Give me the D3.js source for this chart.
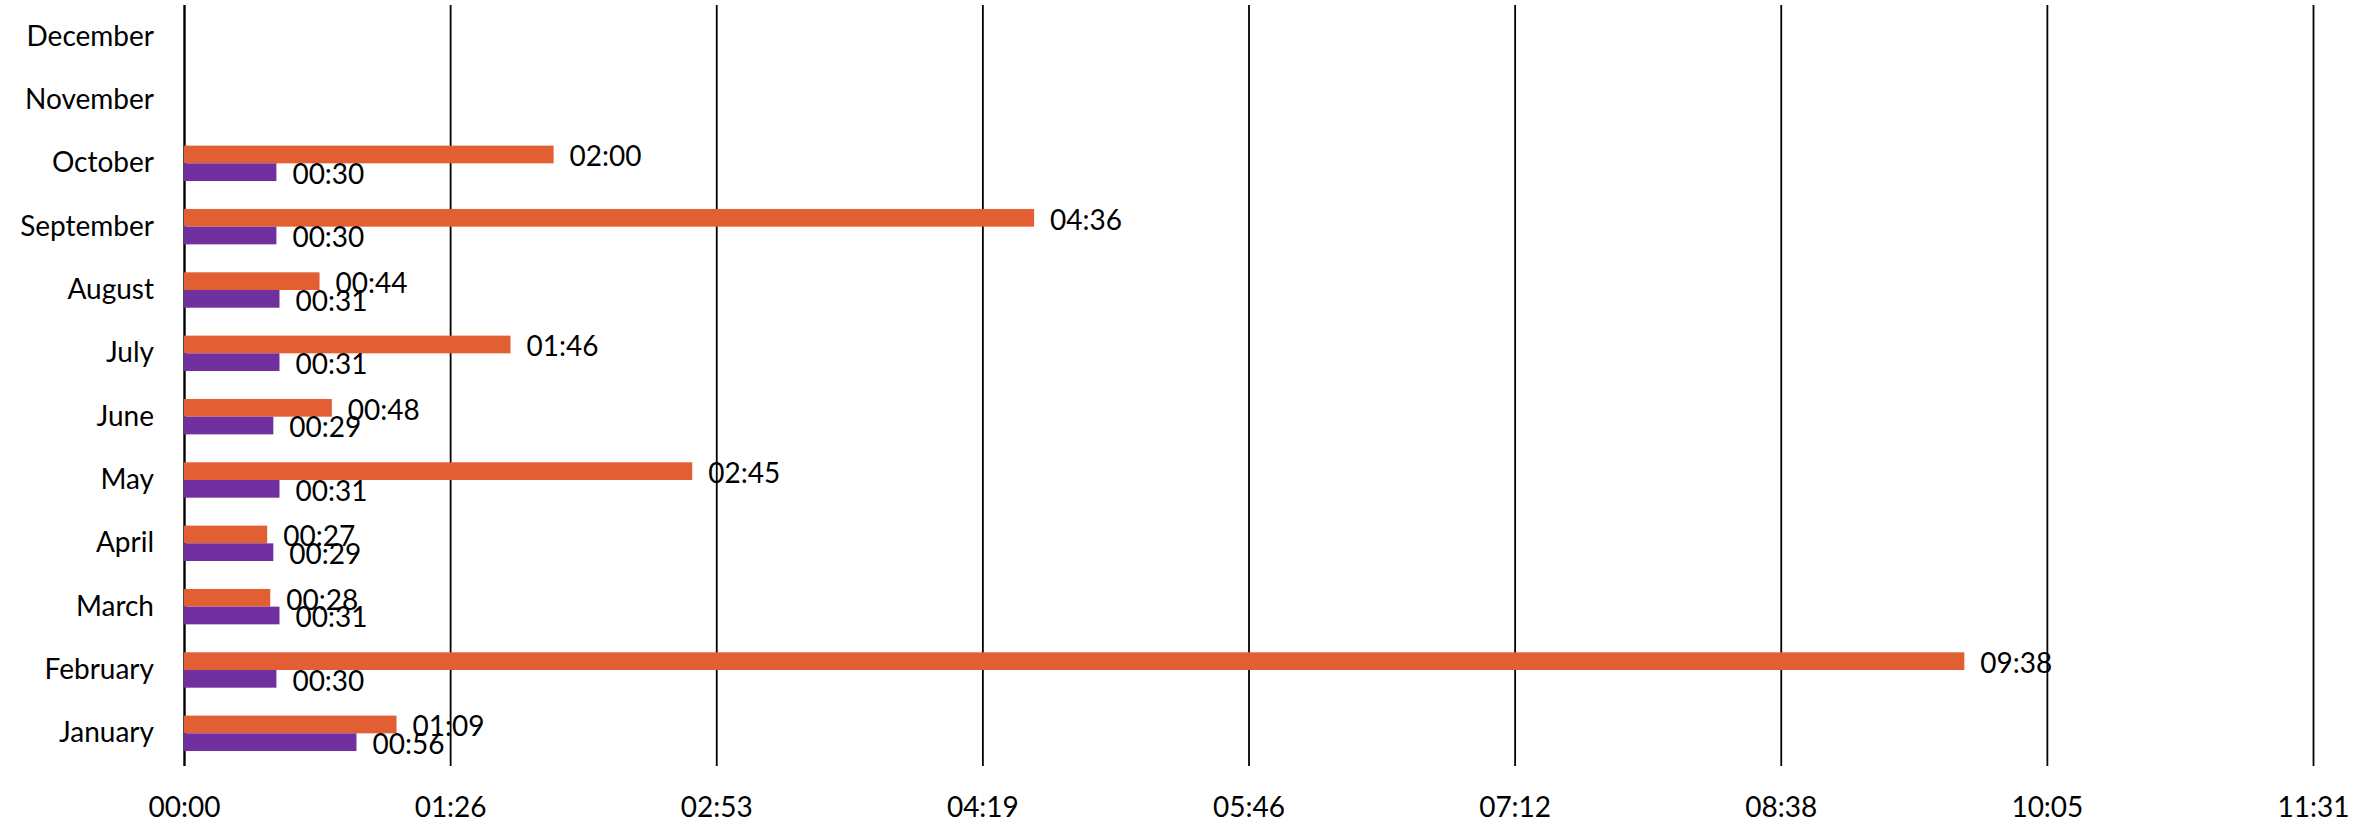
<!DOCTYPE html>
<html>
<head>
<meta charset="utf-8">
<script src="https://cdn.jsdelivr.net/npm/d3@7"></script>
<style>
  html, body { margin: 0; padding: 0; background: #ffffff; }
  svg { display: block; }
  text { font-family: Lato, "Open Sans", sans-serif; fill: #000; }
</style>
</head>
<body>
<svg id="chart" width="2379" height="822"></svg>
<script>
// Months, bottom to top
const months = ["January", "February", "March", "April", "May", "June",
                "July", "August", "September", "October", "November", "December"];

// Durations per month (hh:mm), null where there is no entry
const durationA = ["01:09", "09:38", "00:28", "00:27", "02:45", "00:48",
                   "01:46", "00:44", "04:36", "02:00", null, null];
const durationB = ["00:56", "00:30", "00:31", "00:29", "00:31", "00:29",
                   "00:31", "00:31", "00:30", "00:30", null, null];

const seriesNames = ["durationA", "durationB"];
const seriesColors = ["#E15F32", "#7030A0"];

// Axis tick labels (hh:mm, major unit 0.06 day)
const tickLabels = ["00:00", "01:26", "02:53", "04:19", "05:46",
                    "07:12", "08:38", "10:05", "11:31"];
const tickStepMinutes = 86.4;

const toMinutes = s => {
  const [h, m] = s.split(":").map(Number);
  return h * 60 + m;
};

const rows = months.map((m, i) => ({
  month: m,
  values: [durationA[i], durationB[i]]
}));

const svg = d3.select("#chart");
const margin = { left: 184, right: 66, top: 5, bottom: 57 };
const W = +svg.attr("width"), H = +svg.attr("height");
const plotW = W - margin.left - margin.right;
const plotH = H - margin.top - margin.bottom;

const tickValues = tickLabels.map((_, i) => i * tickStepMinutes);
const x = d3.scaleLinear()
  .domain([0, tickValues[tickValues.length - 1]])
  .range([0, plotW]);

const y = d3.scaleBand()
  .domain(months.slice().reverse())
  .range([0, plotH])
  .paddingInner(0)
  .paddingOuter(0);

const ySub = d3.scaleBand()
  .domain(seriesNames)
  .range([0, y.bandwidth()])
  .paddingInner(0)
  .paddingOuter(0.79);

const g = svg.append("g").attr("transform", `translate(${margin.left},${margin.top})`);

// Vertical gridlines with the time labels underneath
const xAxis = g.append("g")
  .attr("transform", `translate(0,${plotH})`)
  .call(d3.axisBottom(x)
    .tickValues(tickValues)
    .tickFormat((d, i) => tickLabels[i])
    .tickSizeInner(-plotH)
    .tickSizeOuter(0)
    .tickPadding(32));
xAxis.select(".domain").remove();
xAxis.selectAll(".tick line")
  .attr("stroke", "#000")
  .attr("stroke-width", (d, i) => i === 0 ? 2.4 : 1.8)
  .attr("y1", 1);
xAxis.selectAll(".tick text")
  .attr("font-size", 28)
  .attr("fill", "#000");

// Month labels
const yAxis = g.append("g")
  .call(d3.axisLeft(y).tickSize(0).tickPadding(30));
yAxis.select(".domain").remove();
yAxis.selectAll(".tick text")
  .attr("font-size", 28)
  .attr("fill", "#000");

// Bars
const groups = g.selectAll(".month")
  .data(rows)
  .join("g")
  .attr("class", "month")
  .attr("transform", d => `translate(0,${y(d.month)})`);

const items = groups.selectAll(".bar")
  .data(d => d.values.map((v, k) => ({ key: seriesNames[k], color: seriesColors[k], v }))
    .filter(e => e.v !== null))
  .join("g")
  .attr("class", "bar");

items.append("rect")
  .attr("x", 0)
  .attr("y", d => ySub(d.key))
  .attr("width", d => x(toMinutes(d.v)))
  .attr("height", ySub.bandwidth())
  .attr("fill", d => d.color);

// Value labels just past the bar ends
items.append("text")
  .attr("x", d => x(toMinutes(d.v)) + 16)
  .attr("y", d => ySub(d.key) + ySub.bandwidth() / 2 + 2)
  .attr("dy", "0.35em")
  .attr("font-size", 28)
  .text(d => d.v);
</script>
</body>
</html>
